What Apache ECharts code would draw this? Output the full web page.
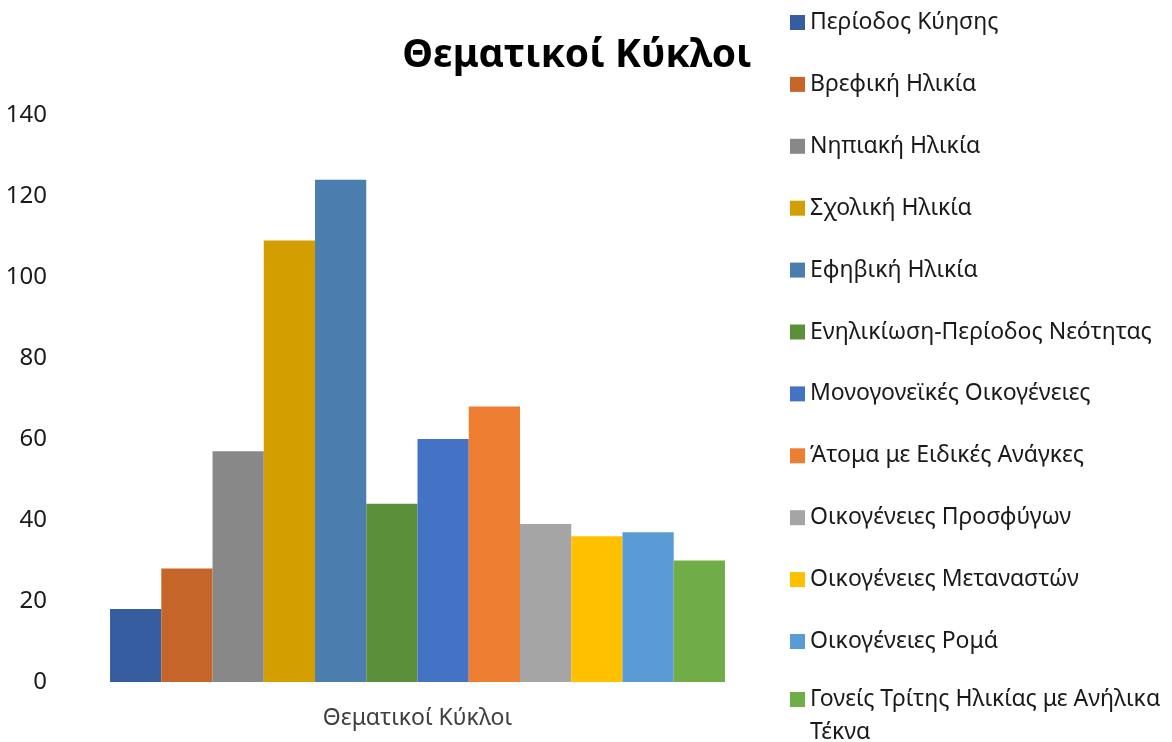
<!DOCTYPE html>
<html>
<head>
<meta charset="utf-8">
<script src="https://cdn.jsdelivr.net/npm/echarts@6/dist/echarts.min.js"></script>
<style>
  html, body { margin: 0; padding: 0; background: #fff; }
  #grafico { width: 1172px; height: 742px; }
</style>
</head>
<body>
<div id="grafico"></div>
<script>
// Datos del gráfico
const categorias = ['Θεματικοί Κύκλοι'];
const nombresSeries = [
    'Περίοδος Κύησης',
    'Βρεφική Ηλικία',
    'Νηπιακή Ηλικία',
    'Σχολική Ηλικία',
    'Εφηβική Ηλικία',
    'Ενηλικίωση-Περίοδος Νεότητας',
    'Μονογονεϊκές Οικογένειες',
    'Άτομα με Ειδικές Ανάγκες',
    'Οικογένειες Προσφύγων',
    'Οικογένειες Μεταναστών',
    'Οικογένειες Ρομά',
    'Γονείς Τρίτης Ηλικίας με Ανήλικα Τέκνα'
];
const valores = [18, 28, 57, 109, 124, 44, 60, 68, 39, 36, 37, 30];
const colores = [
    '#365DA0', '#C5652A', '#888888', '#D39F00', '#4B7EAE', '#5C8F3A',
    '#4472C4', '#ED7D31', '#A5A5A5', '#FFC000', '#5B9BD5', '#70AD47'
];
const ticksY = [0, 20, 40, 60, 80, 100, 120, 140];

const fuente = 'Noto Sans';
const grafico = echarts.init(document.getElementById('grafico'));

const series = nombresSeries.map((nombre, i) => ({
    name: nombre,
    type: 'bar',
    data: [valores[i]],
    barGap: '0%',
    barCategoryGap: '14%',
    itemStyle: { color: colores[i] }
}));

// La leyenda se divide en dos: la última entrada ocupa dos líneas
const ultimo = nombresSeries[nombresSeries.length - 1];
const leyendaBase = {
    orient: 'vertical',
    left: 785,
    itemWidth: 15,
    itemHeight: 15,
    icon: 'rect',
    textStyle: { fontFamily: fuente, fontSize: 23, color: '#1a1a1a', lineHeight: 20 }
};

grafico.setOption({
    animation: false,
    color: colores,
    title: {
        text: 'Θεματικοί Κύκλοι',
        left: 572,
        textAlign: 'center',
        top: 31,
        textStyle: { fontFamily: fuente, fontSize: 39, fontWeight: 'bold', color: '#000' }
    },
    legend: [
        Object.assign({}, leyendaBase, {
            top: 6,
            height: 900,
            itemGap: 38.9,
            data: nombresSeries.slice(0, -1)
        }),
        Object.assign({}, leyendaBase, {
            top: 678,
            itemHeight: 48,
            // cuadrado arriba, alineado con la primera línea del texto
            icon: 'path://M0,0L15,0L15,15L0,15Z M0,48L15,48',
            data: [{
                name: ultimo,
                textStyle: { lineHeight: 33 }
            }],
            formatter: () => 'Γονείς Τρίτης Ηλικίας με Ανήλικα\nΤέκνα'
        })
    ],
    grid: { left: 60, right: 397, top: 115, bottom: 60, containLabel: false },
    xAxis: {
        type: 'category',
        data: categorias,
        axisLine: { show: false },
        axisTick: { show: false },
        axisLabel: { fontFamily: fuente, fontSize: 23, color: '#404040', margin: 25 }
    },
    yAxis: {
        type: 'value',
        min: ticksY[0],
        max: ticksY[ticksY.length - 1],
        interval: 20,
        splitLine: { show: false },
        axisLine: { show: false },
        axisTick: { show: false },
        axisLabel: { fontFamily: fuente, fontSize: 24, color: '#1a1a1a', margin: 13 }
    },
    series: series
});
</script>
</body>
</html>
